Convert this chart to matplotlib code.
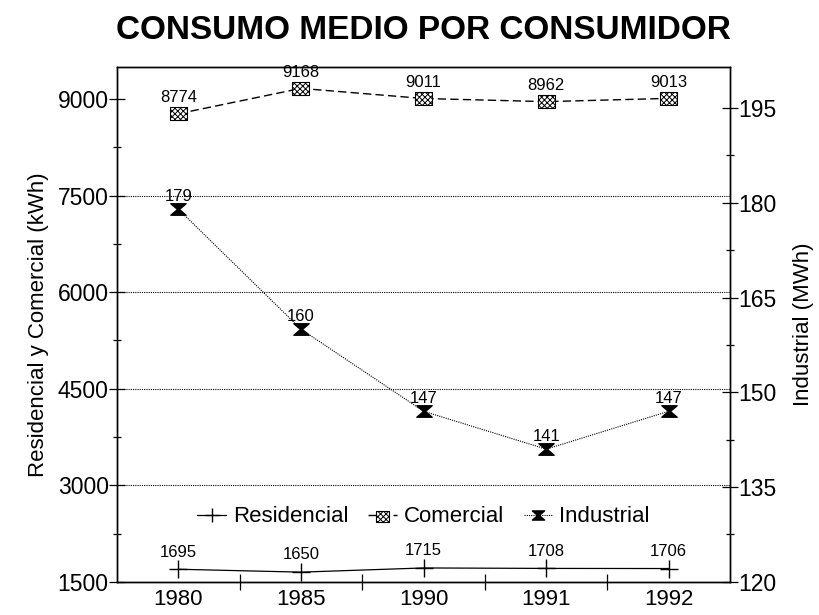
import matplotlib
matplotlib.use('Agg')
import matplotlib.pyplot as plt
from matplotlib.path import Path
from matplotlib.ticker import MultipleLocator, FixedLocator
from matplotlib.legend_handler import HandlerTuple

plt.rcParams['font.family'] = ['Liberation Sans', 'DejaVu Sans']
plt.rcParams['hatch.linewidth'] = 0.7

# data
years = ['1980', '1985', '1990', '1991', '1992']
residencial = [1695, 1650, 1715, 1708, 1706]   # kWh
comercial = [8774, 9168, 9011, 8962, 9013]     # kWh
industrial = [179, 160, 147, 141, 147]         # MWh

x = list(range(len(years)))

# hourglass marker for Industrial, flat rectangle for Comercial
hourglass = Path([(-1.0, 0.75), (1.0, 0.75), (0.12, 0.0), (1.0, -0.75),
                  (-1.0, -0.75), (-0.12, 0.0), (-1.0, 0.75)],
                 [Path.MOVETO] + [Path.LINETO] * 5 + [Path.CLOSEPOLY])
flatbox = Path([(-1.0, -0.75), (1.0, -0.75), (1.0, 0.75), (-1.0, 0.75), (-1.0, -0.75)],
               [Path.MOVETO] + [Path.LINETO] * 3 + [Path.CLOSEPOLY])

fig = plt.figure(figsize=(8.2, 6.15), dpi=100)
ax = fig.add_axes([0.1427, 0.054, 0.7476, 0.837])
ax2 = ax.twinx()

# Residencial and Comercial on the left axis
l_res, = ax.plot(x, residencial, color='black', lw=0.9, zorder=3)
m_res, = ax.plot(x, residencial, ls='none', marker='+', ms=13, mew=1.0,
                 color='black', zorder=4)
l_com, = ax.plot(x, comercial, color='black', lw=1.0, ls=(0, (6, 3)), zorder=3)
m_com = ax.scatter(x, comercial, marker=flatbox, s=150, facecolor='white',
                   edgecolor='black', hatch='xxxxxx', lw=0.8, zorder=4)

# Industrial on the right axis
l_ind, = ax2.plot(x, industrial, color='black', lw=0.8, ls=(0, (1, 1)), zorder=3)
m_ind, = ax2.plot(x, industrial, ls='none', marker=hourglass, ms=11,
                  color='black', zorder=4)

for xi, v in zip(x, residencial):
    ax.annotate(str(v), (xi, v), xytext=(0, 7), textcoords='offset points',
                ha='center', va='bottom', fontsize=12)
for xi, v in zip(x, comercial):
    ax.annotate(str(v), (xi, v), xytext=(0, 6), textcoords='offset points',
                ha='center', va='bottom', fontsize=12)
for xi, v in zip(x, industrial):
    ax2.annotate(str(v), (xi, v), xytext=(0, 4), textcoords='offset points',
                 ha='center', va='bottom', fontsize=12)

# axes limits and ticks
ax.set_xlim(-0.5, 4.5)
ax.set_ylim(1500, 9500)
ax2.set_ylim(120, 201.5)

ax.set_xticks(x)
ax.set_xticklabels(years)
ax.xaxis.set_minor_locator(FixedLocator([0.5, 1.5, 2.5, 3.5]))
ax.tick_params(axis='x', which='major', length=0, labelsize=16, pad=5)
ax.tick_params(axis='x', which='minor', direction='inout', length=12, width=0.9)

ax.yaxis.set_major_locator(MultipleLocator(1500))
ax.yaxis.set_minor_locator(MultipleLocator(750))
ax.tick_params(axis='y', which='major', direction='inout', length=12,
               width=0.9, labelsize=16.5, pad=0)
ax.tick_params(axis='y', which='minor', direction='inout', length=6, width=0.9)

ax2.yaxis.set_major_locator(MultipleLocator(15))
ax2.yaxis.set_minor_locator(MultipleLocator(7.5))
ax2.tick_params(axis='y', which='major', direction='inout', length=12,
                width=0.9, labelsize=16.5, pad=0)
ax2.tick_params(axis='y', which='minor', direction='inout', length=6, width=0.9)

for a in (ax, ax2):
    for sp in a.spines.values():
        sp.set_linewidth(1.0)

# dotted gridlines
for g in [3000, 4500, 6000, 7500]:
    ax.axhline(g, color='black', lw=0.8, ls=(0, (1, 1)), zorder=1)

ax.set_ylabel('Residencial y Comercial (kWh)', fontsize=16, labelpad=6)
ax2.set_ylabel('Industrial (MWh)', fontsize=16, labelpad=12)

fig.suptitle('CONSUMO MEDIO POR CONSUMIDOR', fontsize=24, fontweight='bold',
             x=0.516, y=0.975, va='top')

ax.legend([(l_res, m_res), (l_com, m_com), (l_ind, m_ind)],
          ['Residencial', 'Comercial', 'Industrial'],
          handler_map={tuple: HandlerTuple(ndivide=1)},
          loc='center', bbox_to_anchor=(0.5, 0.126), ncol=3, frameon=False,
          fontsize=16, handlelength=1.3, handletextpad=0.3, columnspacing=0.9,
          markerscale=0.8)

fig.savefig('out.png', dpi=100)
